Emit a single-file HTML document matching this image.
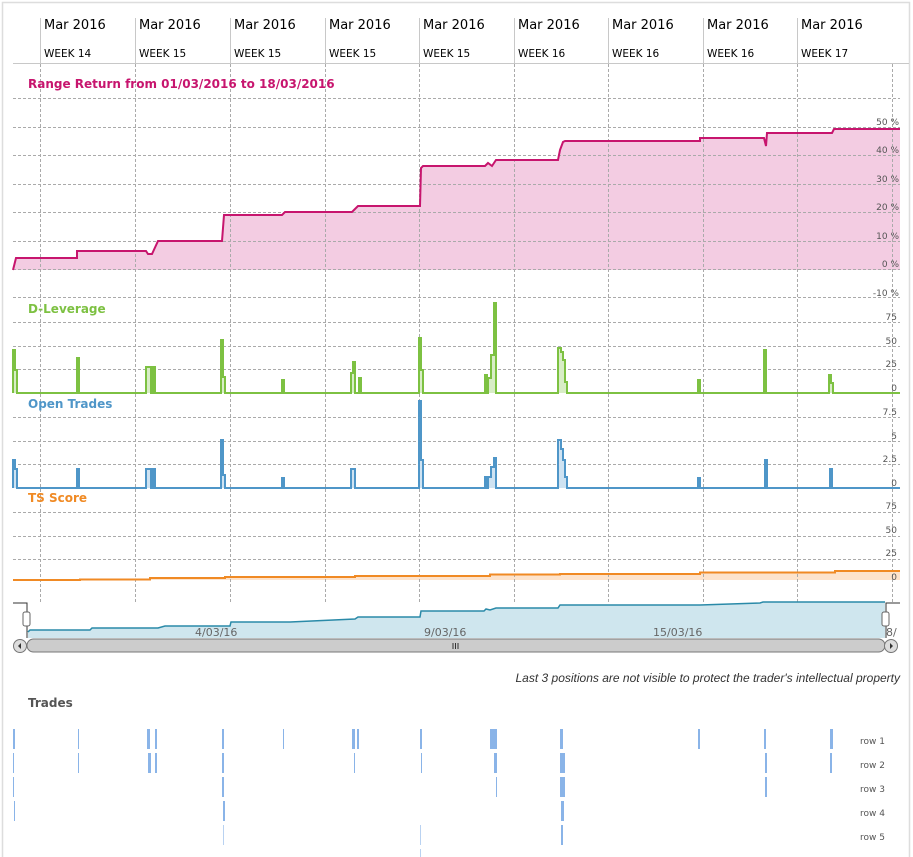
<!DOCTYPE html>
<html><head><meta charset="utf-8"><style>
body{margin:0;background:#fff;}
svg{display:block;font-family:"DejaVu Sans","Liberation Sans",sans-serif;}
</style></head><body>
<svg width="913" height="857" viewBox="0 0 913 857" xmlns="http://www.w3.org/2000/svg">
<rect x="0" y="0" width="913" height="857" fill="#fff"/>
<path d="M2.5,857 V2.5 H909.5 V857" fill="none" stroke="#ddd" stroke-width="1.5"/>
<!-- header -->
<g stroke="#c8c8c8" stroke-width="1">
<line x1="13" y1="63.5" x2="909" y2="63.5"/>
<line x1="40.5" y1="18" x2="40.5" y2="63"/><line x1="135.5" y1="18" x2="135.5" y2="63"/><line x1="230.5" y1="18" x2="230.5" y2="63"/><line x1="325.5" y1="18" x2="325.5" y2="63"/><line x1="419.5" y1="18" x2="419.5" y2="63"/><line x1="514.5" y1="18" x2="514.5" y2="63"/><line x1="608.5" y1="18" x2="608.5" y2="63"/><line x1="703.5" y1="18" x2="703.5" y2="63"/><line x1="797.5" y1="18" x2="797.5" y2="63"/>
</g>
<g font-size="13" fill="#000">
<text x="44" y="29">Mar 2016</text><text x="139" y="29">Mar 2016</text><text x="234" y="29">Mar 2016</text><text x="329" y="29">Mar 2016</text><text x="423" y="29">Mar 2016</text><text x="518" y="29">Mar 2016</text><text x="612" y="29">Mar 2016</text><text x="707" y="29">Mar 2016</text><text x="801" y="29">Mar 2016</text>
</g>
<g font-size="10.5" fill="#000">
<text x="44" y="57">WEEK 14</text><text x="139" y="57">WEEK 15</text><text x="234" y="57">WEEK 15</text><text x="329" y="57">WEEK 15</text><text x="423" y="57">WEEK 15</text><text x="518" y="57">WEEK 16</text><text x="612" y="57">WEEK 16</text><text x="707" y="57">WEEK 16</text><text x="801" y="57">WEEK 17</text>
</g>
<!-- fills first -->
<path d="M13,270 L16,258 H77 V251 H146 L148,254 H152 L158,241 H222 L224,215 H282 L285,212 H352 L355,209 L358,206 H420 L421,168 L423,166 H485 L488,163 L492,166 L496,160 H558 L560,150 L563,142 L565,141 H700 V138 H764 L766,146 L767,133 H832 L834,129 H900 V270 Z" fill="#f3cce2"/>
<path d="M13,580 H80 V579.5 H150 V578 H225 V577 H355 V576 H490 V574.5 H560 V574 H700 V572.5 H835 V571 H900 V580 Z" fill="#fde3cc"/>
<!-- dashed gridlines -->
<g stroke="#aaa" stroke-width="1" stroke-dasharray="3,2" fill="none">
<line x1="13" y1="98.5" x2="900" y2="98.5"/>
<line x1="13" y1="127.5" x2="900" y2="127.5"/><line x1="13" y1="155.5" x2="900" y2="155.5"/><line x1="13" y1="184.5" x2="900" y2="184.5"/><line x1="13" y1="212.5" x2="900" y2="212.5"/><line x1="13" y1="241.5" x2="900" y2="241.5"/><line x1="13" y1="269.5" x2="900" y2="269.5"/><line x1="13" y1="297.5" x2="900" y2="297.5"/>
<line x1="13" y1="322.5" x2="900" y2="322.5"/><line x1="13" y1="346.5" x2="900" y2="346.5"/><line x1="13" y1="369.5" x2="900" y2="369.5"/>
<line x1="13" y1="417.5" x2="900" y2="417.5"/><line x1="13" y1="441.5" x2="900" y2="441.5"/><line x1="13" y1="464.5" x2="900" y2="464.5"/>
<line x1="13" y1="512.5" x2="900" y2="512.5"/><line x1="13" y1="536.5" x2="900" y2="536.5"/><line x1="13" y1="559.5" x2="900" y2="559.5"/>
<line x1="40.5" y1="64" x2="40.5" y2="603"/><line x1="135.5" y1="64" x2="135.5" y2="603"/><line x1="230.5" y1="64" x2="230.5" y2="603"/><line x1="325.5" y1="64" x2="325.5" y2="603"/><line x1="419.5" y1="64" x2="419.5" y2="603"/><line x1="514.5" y1="64" x2="514.5" y2="603"/><line x1="608.5" y1="64" x2="608.5" y2="603"/><line x1="703.5" y1="64" x2="703.5" y2="603"/><line x1="797.5" y1="64" x2="797.5" y2="603"/><line x1="892.5" y1="64" x2="892.5" y2="603"/>
</g>
<!-- return line -->
<path d="M13,270 L16,258 H77 V251 H146 L148,254 H152 L158,241 H222 L224,215 H282 L285,212 H352 L355,209 L358,206 H420 L421,168 L423,166 H485 L488,163 L492,166 L496,160 H558 L560,150 L563,142 L565,141 H700 V138 H764 L766,146 L767,133 H832 L834,129 H900" fill="none" stroke="#c7156e" stroke-width="2"/>
<text x="28" y="88" font-size="12" font-weight="bold" fill="#c7156e">Range Return from 01/03/2016 to 18/03/2016</text>
<g font-size="9" fill="#555" text-anchor="end">
<text x="899" y="125">50 %</text><text x="899" y="153">40 %</text><text x="899" y="182">30 %</text><text x="899" y="210">20 %</text><text x="899" y="239">10 %</text><text x="899" y="267">0 %</text><text x="899" y="296">-10 %</text>
<text x="897" y="320">75</text><text x="897" y="344">50</text><text x="897" y="367">25</text><text x="897" y="391">0</text>
<text x="897" y="415">7.5</text><text x="897" y="439">5</text><text x="897" y="462">2.5</text><text x="897" y="486">0</text>
<text x="897" y="509">75</text><text x="897" y="533">50</text><text x="897" y="556">25</text><text x="897" y="580">0</text>
</g>
<!-- leverage -->
<text x="28" y="313" font-size="12" font-weight="bold" fill="#7dc142">D-Leverage</text>
<path d="M13,393 V350 H15 V370 H17 V393 H77 V358 H79 V393 H146 V367 H151 V393 H153 V367 H155 V393 H221 V340 H223 V377 H225 V393 H282 V380 H284 V393 H351 V373 H353 V362 H355 V393 H359 V378 H361 V393 H419 V338 H421 V370 H423 V393 H485 V375 H487 V393 H488 V378 H491 V355 H494 V303 H496 V393 H558 V348 H561 V352 H563 V360 H565 V382 H567 V393 H698 V380 H700 V393 H764 V350 H766 V393 H829 V375 H831 V383 H833 V393 H900" fill="#d8edc6" stroke="#7dc142" stroke-width="2"/>
<!-- open trades -->
<text x="28" y="408" font-size="12" font-weight="bold" fill="#4f96c8">Open Trades</text>
<path d="M13,488 V460 H15 V469 H17 V488 H77 V469 H79 V488 H146 V469 H151 V488 H153 V469 H155 V488 H221 V440 H223 V475 H225 V488 H282 V478 H284 V488 H351 V469 H353 V469 H355 V488 H419 V401 H421 V460 H423 V488 H485 V477 H487 V488 H488 V477 H491 V467 H494 V458 H496 V488 H558 V440 H561 V449 H563 V460 H565 V477 H567 V488 H698 V478 H700 V488 H765 V460 H767 V488 H830 V469 H832 V488 H900" fill="#cfe3f2" stroke="#4f96c8" stroke-width="2"/>
<!-- TS score -->
<text x="28" y="502" font-size="12" font-weight="bold" fill="#f08a24">TS Score</text>
<path d="M13,580 H80 V579.5 H150 V578 H225 V577 H355 V576 H490 V574.5 H560 V574 H700 V572.5 H835 V571 H900" fill="none" stroke="#f08a24" stroke-width="2"/>
<!-- navigator -->
<path d="M28,638 V632 L30,630 H90 L92,628 H158 L165,626 H230 L231,622 H290 L355,619 L358,617 H420 L421,611 H484 L486,609 L490,610 L496,608 H558 L560,605 H700 L760,603 L763,602 H885 V638 Z" fill="#cfe6ee" stroke="none"/>
<path d="M28,632 L30,630 H90 L92,628 H158 L165,626 H230 L231,622 H290 L355,619 L358,617 H420 L421,611 H484 L486,609 L490,610 L496,608 H558 L560,605 H700 L760,603 L763,602 H885" fill="none" stroke="#2a8aa8" stroke-width="1.5"/>
<g font-size="11" fill="#666">
<text x="195" y="636">4/03/16</text><text x="424" y="636">9/03/16</text><text x="653" y="636">15/03/16</text><text x="886" y="636">8/</text>
</g>
<path d="M13,603 H27 V638 M886,638 V603 H900" fill="none" stroke="#333" stroke-width="1"/>
<rect x="23" y="612" width="7" height="14" rx="2" fill="#fff" stroke="#666"/>
<rect x="882" y="612" width="7" height="14" rx="2" fill="#fff" stroke="#666"/>
<rect x="27" y="639" width="858" height="13" rx="6.5" fill="#ccc" stroke="#777"/>
<circle cx="20" cy="646" r="6.5" fill="#ddd" stroke="#777"/><path d="M21,643 V649 L18,646 Z" fill="#333"/>
<circle cx="891" cy="646" r="6.5" fill="#ddd" stroke="#777"/><path d="M890,643 V649 L893,646 Z" fill="#333"/>
<path d="M453,643 V649 M455.5,643 V649 M458,643 V649" stroke="#333"/>
<text x="900" y="682" font-size="12" font-style="italic" fill="#333" text-anchor="end" font-family="Liberation Sans, sans-serif">Last 3 positions are not visible to protect the trader's intellectual property</text>
<text x="28" y="707" font-size="12" font-weight="bold" fill="#555">Trades</text>
<!-- trades -->
<g fill="#8ab4e8">
<rect x="13" y="729" width="2" height="20"/><rect x="78" y="729" width="1" height="20"/><rect x="147" y="729" width="3" height="20"/><rect x="155" y="729" width="2" height="20"/><rect x="222" y="729" width="2" height="20"/><rect x="283" y="729" width="1" height="20"/><rect x="352" y="729" width="3" height="20"/><rect x="357" y="729" width="2" height="20"/><rect x="420" y="729" width="2" height="20"/><rect x="490" y="729" width="7" height="20"/><rect x="560" y="729" width="3" height="20"/><rect x="698" y="729" width="2" height="20"/><rect x="764" y="729" width="2" height="20"/><rect x="830" y="729" width="3" height="20"/>
<rect x="13" y="753" width="1" height="20"/><rect x="78" y="753" width="1" height="20"/><rect x="148" y="753" width="3" height="20"/><rect x="155" y="753" width="2" height="20"/><rect x="222" y="753" width="2" height="20"/><rect x="354" y="753" width="1" height="20"/><rect x="421" y="753" width="1" height="20"/><rect x="494" y="753" width="3" height="20"/><rect x="560" y="753" width="5" height="20"/><rect x="765" y="753" width="2" height="20"/><rect x="830" y="753" width="2" height="20"/>
<rect x="13" y="777" width="1" height="20"/><rect x="222" y="777" width="2" height="20"/><rect x="496" y="777" width="1" height="20"/><rect x="560" y="777" width="5" height="20"/><rect x="765" y="777" width="2" height="20"/>
<rect x="14" y="801" width="1" height="20"/><rect x="223" y="801" width="2" height="20"/><rect x="561" y="801" width="3" height="20"/>
<rect x="223" y="825" width="1" height="20" opacity="0.6"/><rect x="420" y="825" width="1" height="20" opacity="0.6"/><rect x="561" y="825" width="2" height="20"/>
<rect x="420" y="849" width="1" height="8" opacity="0.6"/>
</g>
<g font-size="9" fill="#555">
<text x="860" y="744">row 1</text><text x="860" y="768">row 2</text><text x="860" y="792">row 3</text><text x="860" y="816">row 4</text><text x="860" y="840">row 5</text>
</g>
</svg>
</body></html>
